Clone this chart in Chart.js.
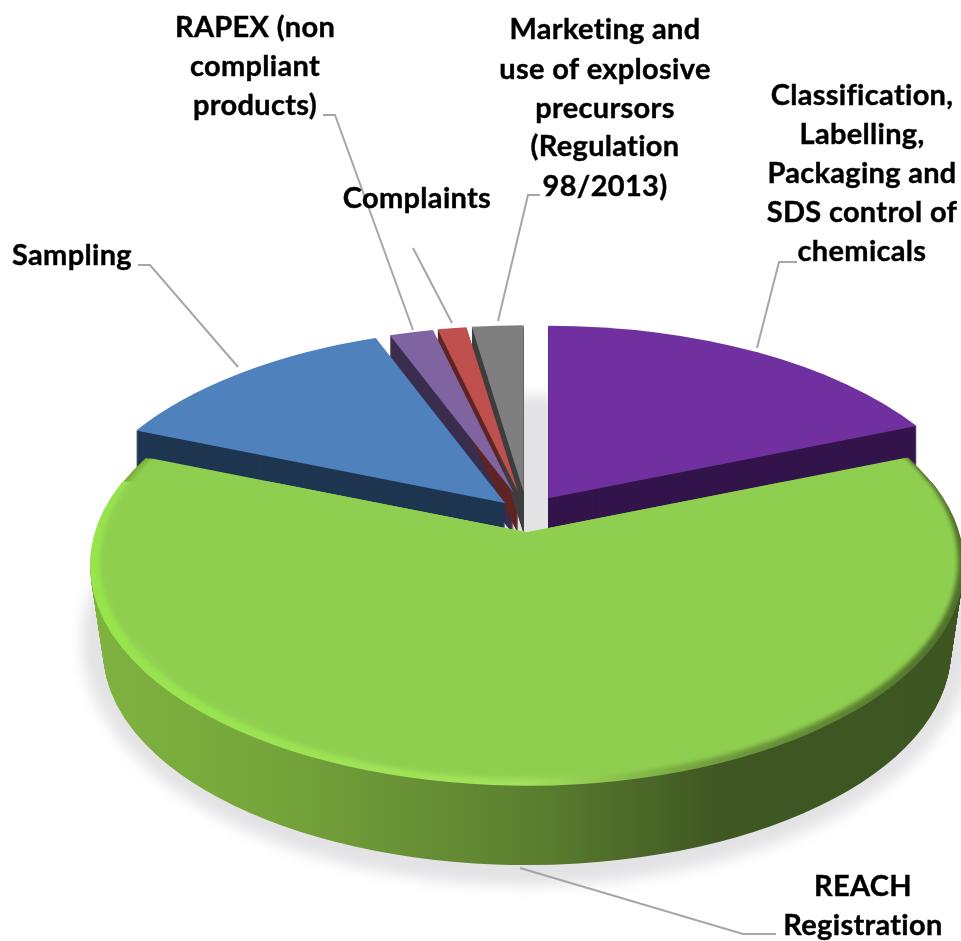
<!DOCTYPE html>
<html>
<head>
<meta charset="utf-8">
<title>Controls pie</title>
<script src="https://cdn.jsdelivr.net/npm/chart.js@4"></script>
<style>
  html, body { margin: 0; padding: 0; background: #fff; overflow: hidden; }
  canvas { display: block; }
</style>
</head>
<body>
<canvas id="pieChart" width="961" height="941"></canvas>
<script>
// values, clockwise from 12 o'clock
const categories = [
  "Classification, Labelling, Packaging and SDS control of chemicals",
  "REACH Registration",
  "Sampling",
  "RAPEX (non compliant products)",
  "Complaints",
  "Marketing and use of explosive precursors (Regulation 98/2013)"
];
const shares = [19.1, 61.8, 13.1, 2.1, 1.4, 2.5];

const faceColors = ["#7030a0", "#8fcf50", "#4f81bd", "#8064a2", "#c0504d", "#7f7f7f"];
const sideColors = ["#33154b", "#5b7f2f", "#1f3651", "#3a2d4d", "#5e2524", "#3f3f3f"];
const explode = [150, 144, 124, 176, 176, 176];  // chart.js draws offset / 4
const perspectiveShift = [99, 65, 91, 107, 107, 107]; // rim centre sits below the apex
const rimRadius = [441, 437, 437, 437, 437, 437];
const GREEN = 1;

const tilt = 0.505;
const pieCentre = { x: 527, y: 514 };
const backDepth = 42;

// wrapped text of the labels
const labelBlocks = [
  { lines: ["Classification,", "Labelling,", "Packaging and", "SDS control of", "chemicals"], x: 862, y: [96, 135, 174, 213, 252] },
  { lines: ["REACH", "Registration"], x: 863, y: [887, 926] },
  { lines: ["Sampling"], x: 72, y: [256] },
  { lines: ["RAPEX (non", "compliant", "products)"], x: 255, y: [28, 67, 106] },
  { lines: ["Complaints"], x: 417, y: [199] },
  { lines: ["Marketing and", "use of explosive", "precursors", "(Regulation", "98/2013)"], x: 605, y: [30, 70, 109, 147, 187] }
];

const leaderLines = [
  [[797, 262], [779, 262], [757, 348]],
  [[520, 868], [743, 934], [776, 934]],
  [[138, 265], [150, 265], [238, 367]],
  [[323, 115], [335, 115], [413, 330]],
  [[413, 248], [452, 323]],
  [[540, 195], [528, 195], [498, 321]]
];

function apexOf(arc) {
  const mid = (arc.startAngle + arc.endAngle) / 2;
  const off = arc.options.offset / 4;
  return { x: arc.x + Math.cos(mid) * off, y: arc.y + Math.sin(mid) * off };
}

// angle on the rim circle hit by a ray leaving the apex
function rimAngle(angle, shift, r) {
  const s = Math.sin(angle), c = Math.cos(angle);
  const t = shift * s + Math.sqrt(shift * shift * s * s - shift * shift + r * r);
  return Math.atan2(t * s - shift, t * c);
}

function slicePath(ctx, arc, shift, r) {
  const a = apexOf(arc);
  const b0 = rimAngle(arc.startAngle, shift, r);
  const b1 = rimAngle(arc.endAngle, shift, r);
  ctx.beginPath();
  ctx.moveTo(a.x, a.y);
  ctx.arc(a.x, a.y + shift, r, b0, b1);
  ctx.closePath();
}

const pie3d = {
  id: "pie3d",
  beforeDatasetDraw(chart) {
    const ctx = chart.ctx;
    const arcs = chart.getDatasetMeta(0).data;
    const green = arcs[GREEN];
    const ga = apexOf(green);

    ctx.save();
    ctx.translate(pieCentre.x, pieCentre.y);
    ctx.scale(1, tilt);
    ctx.translate(-green.x, -green.y);

    // soft ground shadow
    ctx.save();
    ctx.filter = "blur(7px)";
    ctx.fillStyle = "#e3e3e5";
    ctx.beginPath();
    ctx.ellipse(ga.x, ga.y + 108 / tilt, 445, 245 / tilt, 0, 0, Math.PI * 2);
    ctx.fill();
    ctx.restore();

    // back slices: sides first, then faces
    const back = [3, 4, 5, 0, 2];
    back.forEach(i => {
      ctx.fillStyle = sideColors[i];
      for (let d = backDepth; d > 0; d -= 1) {
        ctx.save();
        ctx.translate(0, d / tilt);
        slicePath(ctx, arcs[i], perspectiveShift[i], rimRadius[i]);
        ctx.fill();
        ctx.restore();
      }
    });
    back.forEach(i => {
      slicePath(ctx, arcs[i], perspectiveShift[i], rimRadius[i]);
      ctx.fillStyle = arcs[i].options.backgroundColor;
      ctx.fill();
    });

    // front slice: thick side that narrows towards its base
    const rG = rimRadius[GREEN], sG = perspectiveShift[GREEN];
    const sideGrad = ctx.createLinearGradient(ga.x - rG, 0, ga.x + rG, 0);
    sideGrad.addColorStop(0, "#7fb33f");
    sideGrad.addColorStop(0.2, "#76a63b");
    sideGrad.addColorStop(0.5, "#5c8030");
    sideGrad.addColorStop(0.72, "#3f5722");
    sideGrad.addColorStop(1, "#3d5520");
    ctx.fillStyle = sideGrad;
    for (let t = 1; t > 0; t -= 0.01) {
      ctx.save();
      ctx.translate(0, t * 86 / tilt);
      slicePath(ctx, green, sG, rG * (1 - 0.03 * t));
      ctx.fill();
      ctx.restore();
    }

    // face with a bevelled rim
    ctx.save();
    slicePath(ctx, green, sG, rG);
    ctx.clip();
    const rimGrad = ctx.createLinearGradient(ga.x - rG, 0, ga.x + rG, 0);
    rimGrad.addColorStop(0, "#97e44c");
    rimGrad.addColorStop(0.5, "#a2e35c");
    rimGrad.addColorStop(0.72, "#6f9c3c");
    rimGrad.addColorStop(1, "#4f6f2a");
    ctx.fillStyle = rimGrad;
    ctx.fillRect(ga.x - rG - 10, ga.y - 100, rG * 2 + 20, rG * 2 + 200);
    ctx.filter = "blur(2px)";
    ctx.fillStyle = green.options.backgroundColor;
    ctx.beginPath();
    ctx.ellipse(ga.x + 2, ga.y + sG - 8, rG - 8, rG - 6, 0, 0, Math.PI * 2);
    ctx.fill();
    ctx.restore();

    ctx.restore();
    return false;
  },
  afterDraw(chart) {
    const ctx = chart.ctx;
    ctx.save();
    ctx.strokeStyle = "#a6a6a6";
    ctx.lineWidth = 2;
    leaderLines.forEach(pts => {
      ctx.beginPath();
      pts.forEach((p, i) => i ? ctx.lineTo(p[0], p[1]) : ctx.moveTo(p[0], p[1]));
      ctx.stroke();
    });
    ctx.fillStyle = "#000";
    ctx.strokeStyle = "#000";
    ctx.lineWidth = 0.4;
    ctx.font = "bold 29px Lato";
    ctx.letterSpacing = "0.3px";  // also stops the ti ligature
    ctx.textAlign = "center";
    ctx.textBaseline = "middle";
    labelBlocks.forEach(b => {
      b.lines.forEach((line, i) => {
        ctx.fillText(line, b.x, b.y[i]);
        ctx.strokeText(line, b.x, b.y[i]);
      });
    });
    ctx.restore();
  }
};

new Chart(document.getElementById("pieChart"), {
  type: "pie",
  data: {
    labels: categories,
    datasets: [{
      data: shares,
      backgroundColor: faceColors,
      offset: explode,
      radius: 437,
      borderWidth: 0,
      clip: false
    }]
  },
  options: {
    responsive: false,
    animation: false,
    events: [],
    plugins: { legend: { display: false }, tooltip: { enabled: false } }
  },
  plugins: [pie3d]
});
</script>
</body>
</html>
